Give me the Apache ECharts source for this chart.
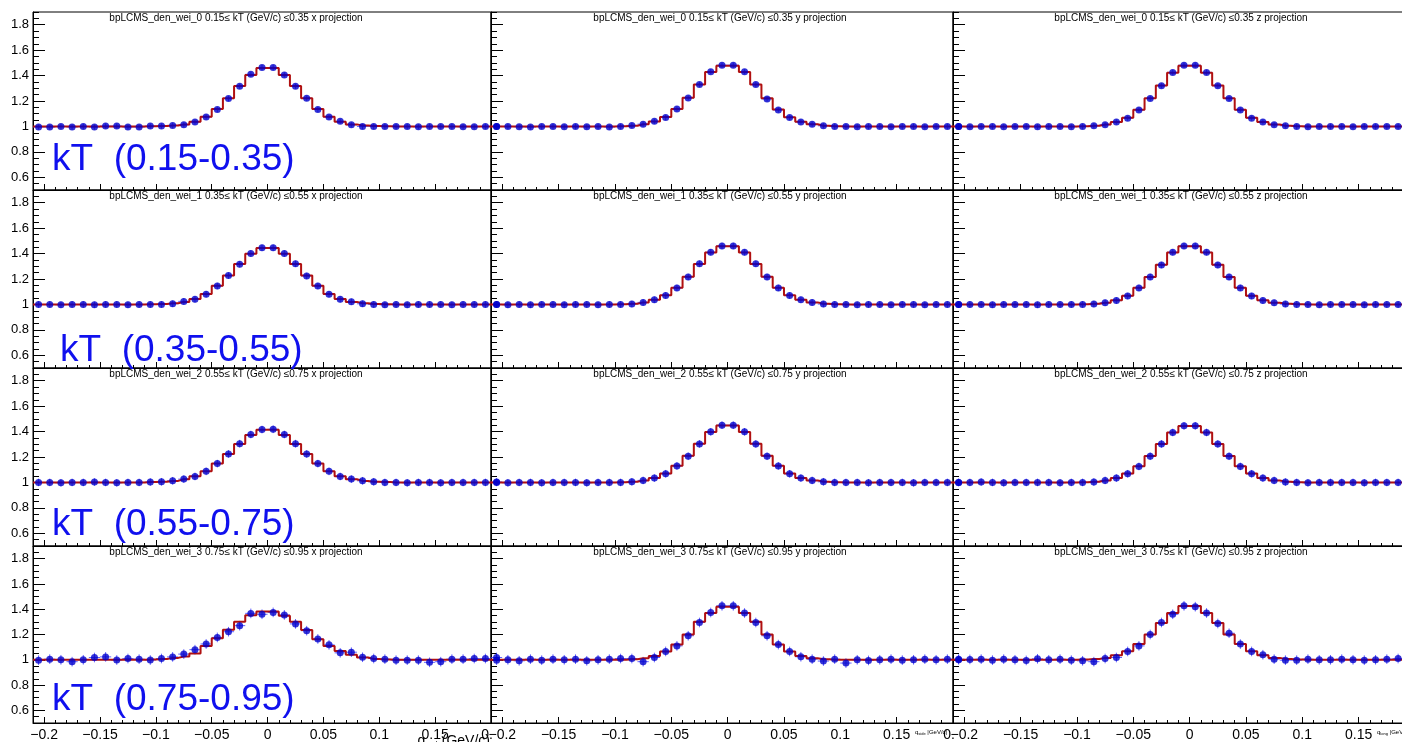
<!DOCTYPE html>
<html><head><meta charset="utf-8">
<script src="https://cdn.jsdelivr.net/npm/echarts@6/dist/echarts.min.js"></script>
<style>html,body{margin:0;padding:0;background:#fff;overflow:hidden}#c{width:1402px;height:742px}</style>
</head><body><div id="c"></div>
<script>
// ---------------- data ----------------
const binCenters = [-0.205,-0.195,-0.185,-0.175,-0.165,-0.155,-0.145,-0.135,-0.125,-0.115,-0.105,-0.095,-0.085,-0.075,-0.065,-0.055,-0.045,-0.035,-0.025,-0.015,-0.005,0.005,0.015,0.025,0.035,0.045,0.055,0.065,0.075,0.085,0.095,0.105,0.115,0.125,0.135,0.145,0.155,0.165,0.175,0.185,0.195,0.205];
const binEdgeLow = -0.21, binEdgeHigh = 0.21;

const xTickValues = [-0.2,-0.15,-0.1,-0.05,0,0.05,0.1,0.15,0.2];
const xTickLabels = ['\u22120.2','\u22120.15','\u22120.1','\u22120.05','0','0.05','0.1','0.15','0.{h|2}'];
const yTickValues = [0.6,0.8,1,1.2,1.4,1.6,1.8];
const yTickLabels = ['0.6','0.8','1','1.2','1.4','1.6','1.8'];

const titles = [
 'bpLCMS_den_wei_0 0.15\u2264 kT (GeV/c) \u22640.35 x projection','bpLCMS_den_wei_0 0.15\u2264 kT (GeV/c) \u22640.35 y projection','bpLCMS_den_wei_0 0.15\u2264 kT (GeV/c) \u22640.35 z projection',
 'bpLCMS_den_wei_1 0.35\u2264 kT (GeV/c) \u22640.55 x projection','bpLCMS_den_wei_1 0.35\u2264 kT (GeV/c) \u22640.55 y projection','bpLCMS_den_wei_1 0.35\u2264 kT (GeV/c) \u22640.55 z projection',
 'bpLCMS_den_wei_2 0.55\u2264 kT (GeV/c) \u22640.75 x projection','bpLCMS_den_wei_2 0.55\u2264 kT (GeV/c) \u22640.75 y projection','bpLCMS_den_wei_2 0.55\u2264 kT (GeV/c) \u22640.75 z projection',
 'bpLCMS_den_wei_3 0.75\u2264 kT (GeV/c) \u22640.95 x projection','bpLCMS_den_wei_3 0.75\u2264 kT (GeV/c) \u22640.95 y projection','bpLCMS_den_wei_3 0.75\u2264 kT (GeV/c) \u22640.95 z projection'
];
const kTLabels = ['kT  (0.15-0.35)','kT  (0.35-0.55)','kT  (0.55-0.75)','kT  (0.75-0.95)'];
const rowErrors = [0.02, 0.025, 0.03, 0.038];

// kT 0.15-0.35
const pts_x0 = [0.995,0.995,1.000,0.995,1.000,0.995,1.003,1.003,0.995,0.995,1.003,1.003,1.008,1.013,1.034,1.074,1.134,1.219,1.316,1.410,1.463,1.463,1.405,1.316,1.222,1.134,1.074,1.040,1.013,1.000,1.000,1.000,1.000,1.000,0.997,1.000,1.000,1.000,0.997,0.997,1.000,1.000];
const hist_x0 = [1,1,1,1,1,1,1,1,1,1,1.001,1.003,1.007,1.016,1.036,1.076,1.138,1.222,1.318,1.405,1.460,1.460,1.405,1.318,1.222,1.138,1.076,1.036,1.016,1.007,1.003,1.001,1,1,1,1,1,1,1,1,1,1];
const pts_y0 = [1.000,1.000,0.997,0.995,1.000,1.000,0.997,1.000,0.997,1.000,0.995,1.000,1.008,1.018,1.040,1.070,1.137,1.224,1.330,1.430,1.482,1.482,1.430,1.330,1.216,1.130,1.070,1.035,1.018,1.005,1.000,1.000,0.997,1.000,1.000,0.997,1.000,1.000,0.997,1.000,1.000,1.000];
const hist_y0 = [1,1,1,1,1,1,1,1,1,1,1,1.002,1.006,1.017,1.038,1.074,1.138,1.226,1.330,1.428,1.478,1.478,1.428,1.330,1.222,1.134,1.072,1.036,1.017,1.006,1.002,1,1,1,1,1,1,1,1,1,1,1];
const pts_z0 = [1.000,0.997,1.000,1.000,0.997,1.000,1.000,0.997,1.000,1.000,0.997,1.000,1.005,1.013,1.035,1.065,1.130,1.220,1.320,1.425,1.482,1.482,1.425,1.320,1.220,1.130,1.065,1.035,1.013,1.005,1.000,0.997,1.000,1.000,1.000,0.997,1.000,1.000,1.000,1.000,1.000,1.000];
const hist_z0 = [1,1,1,1,1,1,1,1,1,1,1,1.002,1.006,1.015,1.035,1.068,1.132,1.222,1.322,1.422,1.478,1.478,1.422,1.322,1.222,1.132,1.068,1.035,1.015,1.006,1.002,1,1,1,1,1,1,1,1,1,1,1];
// kT 0.35-0.55
const pts_x1 = [1.000,1.000,0.997,1.000,1.000,0.997,1.000,1.000,0.997,1.000,1.000,1.000,1.005,1.024,1.040,1.080,1.145,1.227,1.316,1.400,1.445,1.445,1.400,1.320,1.224,1.145,1.080,1.040,1.021,1.005,1.000,0.997,1.000,0.997,1.000,1.000,1.000,0.997,1.000,1.000,1.000,1.000];
const hist_x1 = [1,1,1,1,1,1,1,1,1,1,1.002,1.004,1.009,1.020,1.042,1.082,1.146,1.228,1.318,1.398,1.443,1.443,1.398,1.318,1.228,1.146,1.082,1.042,1.020,1.009,1.004,1.002,1,1,1,1,1,1,1,1,1,1];
const pts_y1 = [1.000,0.997,1.000,0.997,1.000,1.000,0.997,1.000,1.000,0.997,1.000,1.000,1.003,1.016,1.037,1.070,1.130,1.216,1.320,1.410,1.460,1.460,1.410,1.320,1.216,1.130,1.070,1.037,1.016,1.003,1.000,1.000,0.997,1.000,1.000,0.997,1.000,1.000,0.997,1.000,1.000,1.000];
const hist_y1 = [1,1,1,1,1,1,1,1,1,1,1,1.002,1.006,1.016,1.036,1.072,1.132,1.218,1.318,1.408,1.458,1.458,1.408,1.318,1.218,1.132,1.072,1.036,1.016,1.006,1.002,1,1,1,1,1,1,1,1,1,1,1];
const pts_z1 = [1.000,1.000,1.000,0.997,1.000,1.000,1.000,0.997,1.000,1.000,1.000,1.000,1.003,1.013,1.030,1.066,1.130,1.216,1.310,1.410,1.460,1.460,1.410,1.310,1.216,1.130,1.066,1.030,1.013,1.003,1.000,1.000,0.997,1.000,1.000,1.000,0.997,1.000,1.000,1.000,0.997,1.000];
const hist_z1 = [1,1,1,1,1,1,1,1,1,1,1,1.002,1.006,1.014,1.032,1.068,1.132,1.216,1.312,1.408,1.458,1.458,1.408,1.312,1.216,1.132,1.068,1.032,1.014,1.006,1.002,1,1,1,1,1,1,1,1,1,1,1];
// kT 0.55-0.75
const pts_x2 = [1.000,1.000,0.997,1.000,1.000,1.003,1.000,0.997,1.000,1.000,1.003,1.005,1.013,1.026,1.047,1.087,1.148,1.224,1.305,1.377,1.416,1.418,1.377,1.305,1.224,1.148,1.087,1.047,1.026,1.013,1.005,1.000,1.000,0.997,1.000,1.000,0.997,1.000,1.000,1.000,1.000,1.003];
const hist_x2 = [1,1,1,1,1,1,1,1,1,1,1.003,1.006,1.012,1.025,1.048,1.088,1.148,1.224,1.303,1.374,1.414,1.414,1.374,1.303,1.224,1.148,1.088,1.048,1.025,1.012,1.006,1.003,1,1,1,1,1,1,1,1,1,1];
const pts_y2 = [1.000,0.997,1.000,1.000,0.997,1.000,1.000,1.000,0.997,1.000,1.000,1.000,1.005,1.016,1.034,1.068,1.130,1.206,1.303,1.398,1.450,1.450,1.398,1.303,1.206,1.130,1.068,1.034,1.016,1.005,1.000,1.000,1.000,0.997,1.000,1.000,1.000,0.997,1.000,1.000,1.000,1.000];
const hist_y2 = [1,1,1,1,1,1,1,1,1,1,1,1.002,1.006,1.016,1.035,1.070,1.132,1.210,1.305,1.396,1.448,1.448,1.396,1.305,1.210,1.132,1.070,1.035,1.016,1.006,1.002,1,1,1,1,1,1,1,1,1,1,1];
const pts_z2 = [1.000,1.000,1.003,1.000,0.997,1.000,1.000,1.000,1.000,0.997,1.000,1.000,1.003,1.016,1.034,1.068,1.126,1.206,1.303,1.393,1.445,1.445,1.393,1.303,1.206,1.126,1.068,1.034,1.016,1.003,1.000,0.997,1.000,1.000,1.000,1.000,0.997,1.000,1.000,1.000,1.000,1.000];
const hist_z2 = [1,1,1,1,1,1,1,1,1,1,1,1.002,1.006,1.016,1.035,1.070,1.128,1.208,1.303,1.392,1.443,1.443,1.392,1.303,1.208,1.128,1.070,1.035,1.016,1.006,1.002,1,1,1,1,1,1,1,1,1,1,1];
// kT 0.75-0.95
const pts_x3 = [0.997,1.005,1.000,0.985,1.000,1.018,1.023,0.998,1.010,1.005,0.998,1.010,1.023,1.045,1.080,1.125,1.177,1.222,1.270,1.367,1.360,1.375,1.355,1.284,1.230,1.165,1.118,1.055,1.060,1.020,1.010,1.005,0.997,0.997,0.997,0.980,0.985,1.005,1.005,1.010,1.010,1.018];
const hist_x3 = [1,1,1,1,1,1,1,1,1,1,1.003,1.006,1.015,1.026,1.050,1.110,1.170,1.237,1.300,1.353,1.382,1.382,1.348,1.300,1.235,1.163,1.110,1.070,1.040,1.018,1.006,1.002,1,1,1,1,1,1,1,1,1,1];
const pts_y3 = [0.997,1.000,0.992,1.005,0.997,1.005,1.000,1.005,0.992,1.000,1.005,1.010,1.010,0.985,1.018,1.066,1.110,1.190,1.295,1.374,1.427,1.427,1.370,1.295,1.190,1.120,1.066,1.024,1.005,0.990,1.005,0.974,1.000,0.995,1.000,1.005,0.997,1.000,1.005,1.000,1.005,1.005];
const hist_y3 = [1,1,1,1,1,1,1,1,1,1,1,1,1.005,1.012,1.030,1.065,1.120,1.200,1.300,1.370,1.420,1.420,1.370,1.300,1.200,1.120,1.065,1.030,1.012,1.005,1,1,1,1,1,1,1,1,1,1,1,1];
const pts_z3 = [1.000,1.003,1.005,0.997,1.005,1.000,0.995,1.008,1.000,1.005,0.997,0.992,0.985,1.010,1.018,1.066,1.110,1.200,1.295,1.360,1.427,1.420,1.370,1.287,1.210,1.124,1.066,1.040,1.005,0.997,0.997,1.005,1.000,1.000,1.005,1.000,0.997,1.000,1.005,1.010,1.018,1.010];
const hist_z3 = [1,1,1,1,1,1,1,1,1,1,1,1.003,1.006,1.015,1.035,1.068,1.125,1.200,1.290,1.370,1.425,1.425,1.370,1.290,1.200,1.125,1.068,1.035,1.015,1.006,1.003,1,1,1,1,1,1,1,1,1,1,1];

const panelPoints = [pts_x0,pts_y0,pts_z0,pts_x1,pts_y1,pts_z1,pts_x2,pts_y2,pts_z2,pts_x3,pts_y3,pts_z3];
const panelHists  = [hist_x0,hist_y0,hist_z0,hist_x1,hist_y1,hist_z1,hist_x2,hist_y2,hist_z2,hist_x3,hist_y3,hist_z3];

// ---------------- layout ----------------
const COL_LEFT = [33, 491, 953];
const COL_W = [458, 462, 462];
const ROW_TOP = [12, 190, 368, 546];
const ROW_H = [178, 178, 178, 177];
const X_MIN = -0.21, X_MAX = 0.2, Y_MIN = 0.5, Y_MAX = 1.9;
const FONT = '"Liberation Sans", Arial, Helvetica, sans-serif';
const BLUE = '#0000cc', RED = '#b01010';

const xMinor = []; for (let k = -21; k <= 20; k++) xMinor.push(+(k*0.01).toFixed(2));
const yMinor = []; for (let k = 10; k <= 38; k++) yMinor.push(+(k*0.05).toFixed(2));

function lookup(vals, labels, v){
  const i = vals.findIndex(t => Math.abs(t - v) < 1e-9);
  return i < 0 ? '' : labels[i];
}

const grid = [], xAxis = [], yAxis = [], series = [], graphic = [];
for (let r = 0; r < 4; r++) {
  for (let c = 0; c < 3; c++) {
    const g = r*3 + c;
    grid.push({left: COL_LEFT[c], top: ROW_TOP[r], width: COL_W[c], height: ROW_H[r],
      show: true, borderColor: '#000', borderWidth: 1, containLabel: false, outerBoundsMode: 'none'});
    xAxis.push({gridIndex: g, type: 'value', min: X_MIN, max: X_MAX, position: 'bottom',
      axisLine: {show: true, onZero: false, lineStyle: {color: '#000', width: 1}},
      axisTick: {show: true, inside: true, length: 3, customValues: xMinor, lineStyle: {color: '#000', width: 1}},
      axisLabel: {show: r === 3, customValues: xTickValues, margin: 5, fontSize: 14, color: '#000', fontFamily: FONT,
        showMinLabel: true, showMaxLabel: true, hideOverlap: false,
        formatter: v => lookup(xTickValues, xTickLabels, v),
        rich: {h: {color: 'rgba(0,0,0,0)', fontSize: 14, fontFamily: FONT}}},
      splitLine: {show: false}});
    xAxis.push({gridIndex: g, type: 'value', min: X_MIN, max: X_MAX, position: 'bottom',
      axisLine: {show: false, onZero: false},
      axisTick: {show: true, inside: true, length: 6, customValues: xTickValues, lineStyle: {color: '#000', width: 1}},
      axisLabel: {show: false}, splitLine: {show: false}});
    yAxis.push({gridIndex: g, type: 'value', min: Y_MIN, max: Y_MAX, position: 'left',
      axisLine: {show: true, onZero: false, lineStyle: {color: '#000', width: 1}},
      axisTick: {show: true, inside: true, length: 6, customValues: yMinor, lineStyle: {color: '#000', width: 1}},
      axisLabel: {show: c === 0, customValues: yTickValues, margin: 4, fontSize: 13, color: '#000', fontFamily: FONT,
        formatter: v => lookup(yTickValues, yTickLabels, v)},
      splitLine: {show: false}});
    yAxis.push({gridIndex: g, type: 'value', min: Y_MIN, max: Y_MAX, position: 'left',
      axisLine: {show: false, onZero: false},
      axisTick: {show: true, inside: true, length: 12, customValues: yTickValues, lineStyle: {color: '#000', width: 1}},
      axisLabel: {show: false}, splitLine: {show: false}});

    const pts = panelPoints[g], hist = panelHists[g];
    const histData = [[binEdgeLow, hist[0]]];
    binCenters.forEach((x, i) => histData.push([x, hist[i]]));
    histData.push([binEdgeHigh, hist[hist.length-1]]);
    const err = rowErrors[r];
    series.push({type: 'custom', xAxisIndex: 2*g, yAxisIndex: 2*g, z: 2, silent: true,
      data: binCenters.map((x, i) => [x, pts[i], err]),
      encode: {x: 0, y: 1},
      renderItem: (params, api) => {
        const x = api.value(0), y = api.value(1), e = api.value(2);
        const a = api.coord([x - 0.005, y]), b = api.coord([x + 0.005, y]);
        const d = api.coord([x, y - e]), u = api.coord([x, y + e]);
        const st = {stroke: '#3a3aff', lineWidth: 1, opacity: 0.8};
        return {type: 'group', children: [
          {type: 'line', shape: {x1: a[0], y1: a[1], x2: b[0], y2: b[1]}, style: st},
          {type: 'line', shape: {x1: d[0], y1: d[1], x2: u[0], y2: u[1]}, style: st}
        ]};
      }});
    series.push({type: 'line', xAxisIndex: 2*g, yAxisIndex: 2*g, data: histData, step: 'middle',
      symbol: 'none', lineStyle: {color: RED, width: 2}, z: 3, silent: true, clip: true});
    series.push({type: 'scatter', xAxisIndex: 2*g, yAxisIndex: 2*g, z: 4, silent: true, clip: false,
      data: binCenters.map((x, i) => [x, pts[i]]),
      symbol: 'circle', symbolSize: 7, itemStyle: {color: BLUE}});

    const titleCx = [236, 720, 1181][c];
    graphic.push({type: 'text', x: titleCx, y: ROW_TOP[r] + 6.5, silent: true, z: 100,
      style: {text: titles[g], fill: '#000', font: '10px ' + FONT, textAlign: 'center', textVerticalAlign: 'middle'}});
  }
}
const kTX = [52, 60, 52, 52];
const kTY = [160, 351, 525, 700];
for (let r = 0; r < 4; r++) {
  graphic.push({type: 'text', x: kTX[r], y: kTY[r], silent: true, z: 100,
    style: {text: kTLabels[r], fill: '#1010ee', font: '37px ' + FONT, textAlign: 'left', textVerticalAlign: 'middle'}});
}
graphic.push({type: 'text', x: 490, y: 734, silent: true, z: 100,
  style: {text: 'q{s|out} (GeV/c)', fill: '#000', font: '14px ' + FONT, textAlign: 'right', textVerticalAlign: 'top',
    rich: {s: {fontSize: 9, fontFamily: FONT, padding: [6,0,0,0]}}}});
graphic.push({type: 'text', x: 915, y: 729, silent: true, z: 100,
  style: {text: 'q{s|side} |GeV/c|', fill: '#000', font: '6px ' + FONT, textAlign: 'left', textVerticalAlign: 'top',
    rich: {s: {fontSize: 4, fontFamily: FONT, padding: [3,0,0,0]}}}});
graphic.push({type: 'text', x: 1377, y: 729, silent: true, z: 100,
  style: {text: 'q{s|long} |GeV/c|', fill: '#000', font: '6px ' + FONT, textAlign: 'left', textVerticalAlign: 'top',
    rich: {s: {fontSize: 4, fontFamily: FONT, padding: [3,0,0,0]}}}});

const chart = echarts.init(document.getElementById('c'), null, {renderer: 'canvas'});
chart.setOption({animation: false, backgroundColor: '#fff', grid, xAxis, yAxis, series, graphic});
</script>
</body></html>
